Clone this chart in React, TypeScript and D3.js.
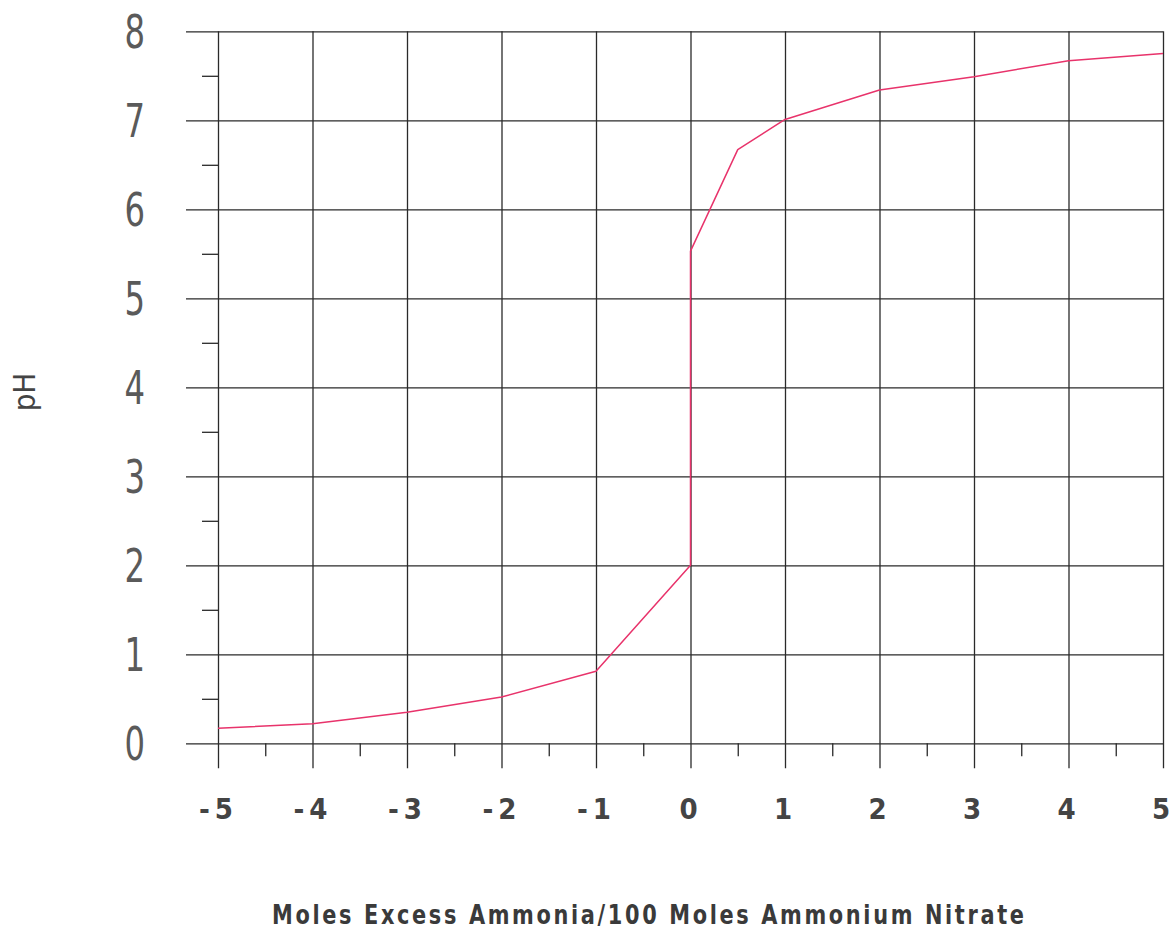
import React, { useRef, useEffect } from 'react';
import * as d3 from 'd3';

// readings
const excessAmmonia = [-5, -4, -3, -2, -1, 0, 0, 0.5, 1, 2, 3, 4, 5];
const phValues = [0.17, 0.22, 0.35, 0.52, 0.81, 2.0, 5.53, 6.67, 7.01, 7.34, 7.49, 7.67, 7.75];

const xTicks = [-5, -4, -3, -2, -1, 0, 1, 2, 3, 4, 5];
const xMinorTicks = [-4.5, -3.5, -2.5, -1.5, -0.5, 0.5, 1.5, 2.5, 3.5, 4.5];
const yTicks = [0, 1, 2, 3, 4, 5, 6, 7, 8];
const yMinorTicks = [0.5, 1.5, 2.5, 3.5, 4.5, 5.5, 6.5, 7.5];

const X_TITLE = 'Moles Excess Ammonia/100 Moles Ammonium Nitrate';
const Y_TITLE = 'pH';

const WIDTH = 1175;
const HEIGHT = 938;
const FONT = '"DejaVu Sans Condensed", "Liberation Sans", sans-serif';
const GRID = '#2a2a2a';
const CURVE = '#e8336b';

const App = () => {
  const svgRef = useRef<SVGSVGElement>(null);

  useEffect(() => {
    const svg = d3.select(svgRef.current);
    svg.selectAll('*').remove();

    const x = d3.scaleLinear().domain([-5, 5]).range([218, 1163]);
    const y = d3.scaleLinear().domain([0, 8]).range([743.3, 31.3]);

    const MAJOR_OUT = 32; // grid lines run past the left axis
    const X_MAJOR_OUT = 25;
    const Y_LABEL_SQUEEZE = 0.78;
    const TITLE_SQUEEZE = 0.86;

    // horizontal grid + y labels
    const yAxis = d3
      .axisLeft(y)
      .tickValues(yTicks)
      .tickFormat(d3.format('d'))
      .tickSize(-(x.range()[1] - x.range()[0] + MAJOR_OUT))
      .tickPadding(41);
    const gy = svg
      .append('g')
      .attr('transform', `translate(${x.range()[0] - MAJOR_OUT},0)`)
      .call(yAxis);
    gy.select('.domain').remove();
    gy.selectAll('line').attr('stroke', GRID).attr('stroke-width', 1.3);
    gy.selectAll('text')
      .attr('font-family', FONT)
      .attr('font-size', 46)
      .attr('fill', '#5a5a5a')
      .attr('dy', '0.36em')
      .attr('x', -41 / Y_LABEL_SQUEEZE)
      .attr('transform', `scale(${Y_LABEL_SQUEEZE},1)`);

    // y minor ticks
    const yMinor = d3.axisLeft(y).tickValues(yMinorTicks).tickSize(16).tickFormat(() => '');
    const gym = svg.append('g').attr('transform', `translate(${x.range()[0]},0)`).call(yMinor);
    gym.select('.domain').remove();
    gym.selectAll('line').attr('stroke', GRID).attr('stroke-width', 1.3);

    // vertical grid + x labels
    const xAxis = d3
      .axisBottom(x)
      .tickValues(xTicks)
      .tickFormat(d3.format('d'))
      .tickSize(-(y.range()[0] - y.range()[1] + X_MAJOR_OUT))
      .tickPadding(51);
    const gx = svg
      .append('g')
      .attr('transform', `translate(0,${y.range()[0] + X_MAJOR_OUT})`)
      .call(xAxis);
    gx.select('.domain').remove();
    gx.selectAll('line').attr('stroke', GRID).attr('stroke-width', 1.3);
    gx.selectAll('text')
      .attr('font-family', FONT)
      .attr('font-size', 29)
      .attr('font-weight', 'bold')
      .attr('letter-spacing', 5)
      .attr('fill', '#444')
      .attr('dy', 0)
      .text((d: any) => (d < 0 ? `-${Math.abs(d)}` : `${d}`));

    // x minor ticks
    const xMinor = d3.axisBottom(x).tickValues(xMinorTicks).tickSize(13).tickFormat(() => '');
    const gxm = svg.append('g').attr('transform', `translate(0,${y.range()[0]})`).call(xMinor);
    gxm.select('.domain').remove();
    gxm.selectAll('line').attr('stroke', GRID).attr('stroke-width', 1.3);

    // curve
    const points = excessAmmonia.map((v, i) => [v, phValues[i]] as [number, number]);
    const line = d3
      .line<[number, number]>()
      .x((d) => x(d[0]))
      .y((d) => y(d[1]));
    svg
      .append('path')
      .datum(points)
      .attr('d', line)
      .attr('fill', 'none')
      .attr('stroke', CURVE)
      .attr('stroke-width', 1.5)
      .attr('stroke-linejoin', 'round');

    // axis titles
    svg
      .append('text')
      .attr('transform', `scale(${TITLE_SQUEEZE},1)`)
      .attr('x', 272 / TITLE_SQUEEZE)
      .attr('y', 924)
      .attr('font-family', FONT)
      .attr('font-size', 27)
      .attr('font-weight', 600)
      .attr('fill', '#3a3a3a')
      .attr('textLength', 752 / TITLE_SQUEEZE)
      .attr('lengthAdjust', 'spacing')
      .text(X_TITLE);

    svg
      .append('text')
      .attr('transform', `translate(35,392) rotate(-90)`)
      .attr('text-anchor', 'middle')
      .attr('font-family', FONT)
      .attr('font-size', 31)
      .attr('fill', '#444')
      .text(Y_TITLE);
  }, []);

  return (
    <svg
      ref={svgRef}
      width={WIDTH}
      height={HEIGHT}
      style={{ position: 'absolute', left: 0, top: 0, background: '#fff' }}
    />
  );
};

export default App;
